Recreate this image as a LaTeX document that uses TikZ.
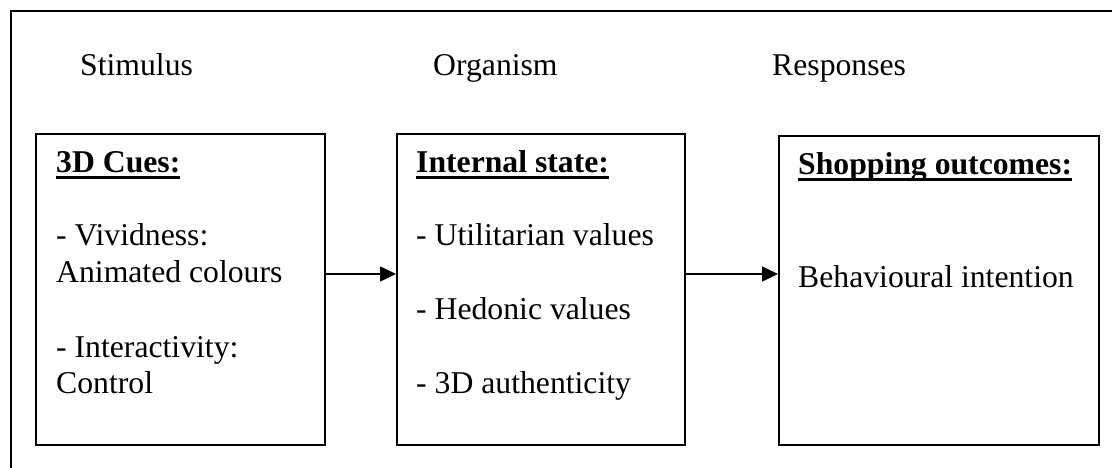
\documentclass[tikz,border=0pt]{standalone}
\usepackage{fontspec}
\setmainfont{Liberation Serif}
\usetikzlibrary{arrows.meta}

% bold heading with a thick rule under it
\newcommand\headline[1]{\setbox0\hbox{\bfseries #1}\rlap{\rule[-6.5pt]{\wd0}{3pt}}\box0}

\tikzset{
  frame/.style={line width=2pt, black},
  stagebox/.style={draw, line width=2pt, rectangle, anchor=north west, inner sep=0pt},
  txt/.style={anchor=base west, inner sep=0pt, font=\fontsize{31.7}{37}\selectfont},
  link/.style={line width=1.6pt, -{Triangle[length=16pt,width=15pt]}}
}

\begin{document}
\begin{tikzpicture}[x=1pt,y=1pt]
  \useasboundingbox (0,0) rectangle (1112,-468);

  % outer frame (top and left edges)
  \draw[frame] (11,-468) -- (11,-11) -- (1112,-11);

  % column titles
  \node[txt] (tStim) at (80,-76) {Stimulus};
  \node[txt] (tOrg)  at (433,-76) {Organism};
  \node[txt] (tResp) at (772,-76) {Responses};

  % the three boxes
  \node[stagebox, minimum width=289pt, minimum height=311pt] (stim) at (35,-133) {};
  \node[stagebox, minimum width=288pt, minimum height=311pt] (org)  at (396,-133) {};
  \node[stagebox, minimum width=320pt, minimum height=309pt] (resp) at (778,-135) {};

  % stimulus box text
  \node[txt] (s0) at (56,-173) {\headline{3D Cues:}};
  \node[txt] (s1) at (56,-245) {- Vividness:};
  \node[txt] (s2) at (56,-282) {Animated colours};
  \node[txt] (s3) at (56,-357) {- Interactivity:};
  \node[txt] (s4) at (56,-393) {Control};

  % organism box text
  \node[txt] (o0) at (416,-173) {\headline{Internal state:}};
  \node[txt] (o1) at (416,-245) {- Utilitarian values};
  \node[txt] (o2) at (416,-319) {- Hedonic values};
  \node[txt] (o3) at (416,-393) {- 3D authenticity};

  % response box text
  \node[txt] (r0) at (798,-175) {\headline{Shopping outcomes:}};
  \node[txt] (r1) at (798,-287) {Behavioural intention};

  % arrows between boxes
  \draw[link] ([yshift=15.5pt]stim.east) -- ([yshift=15.5pt]stim.east -| org.west);
  \draw[link] ([yshift=15.5pt]org.east) -- ([yshift=15.5pt]org.east -| resp.west);
\end{tikzpicture}
\end{document}
